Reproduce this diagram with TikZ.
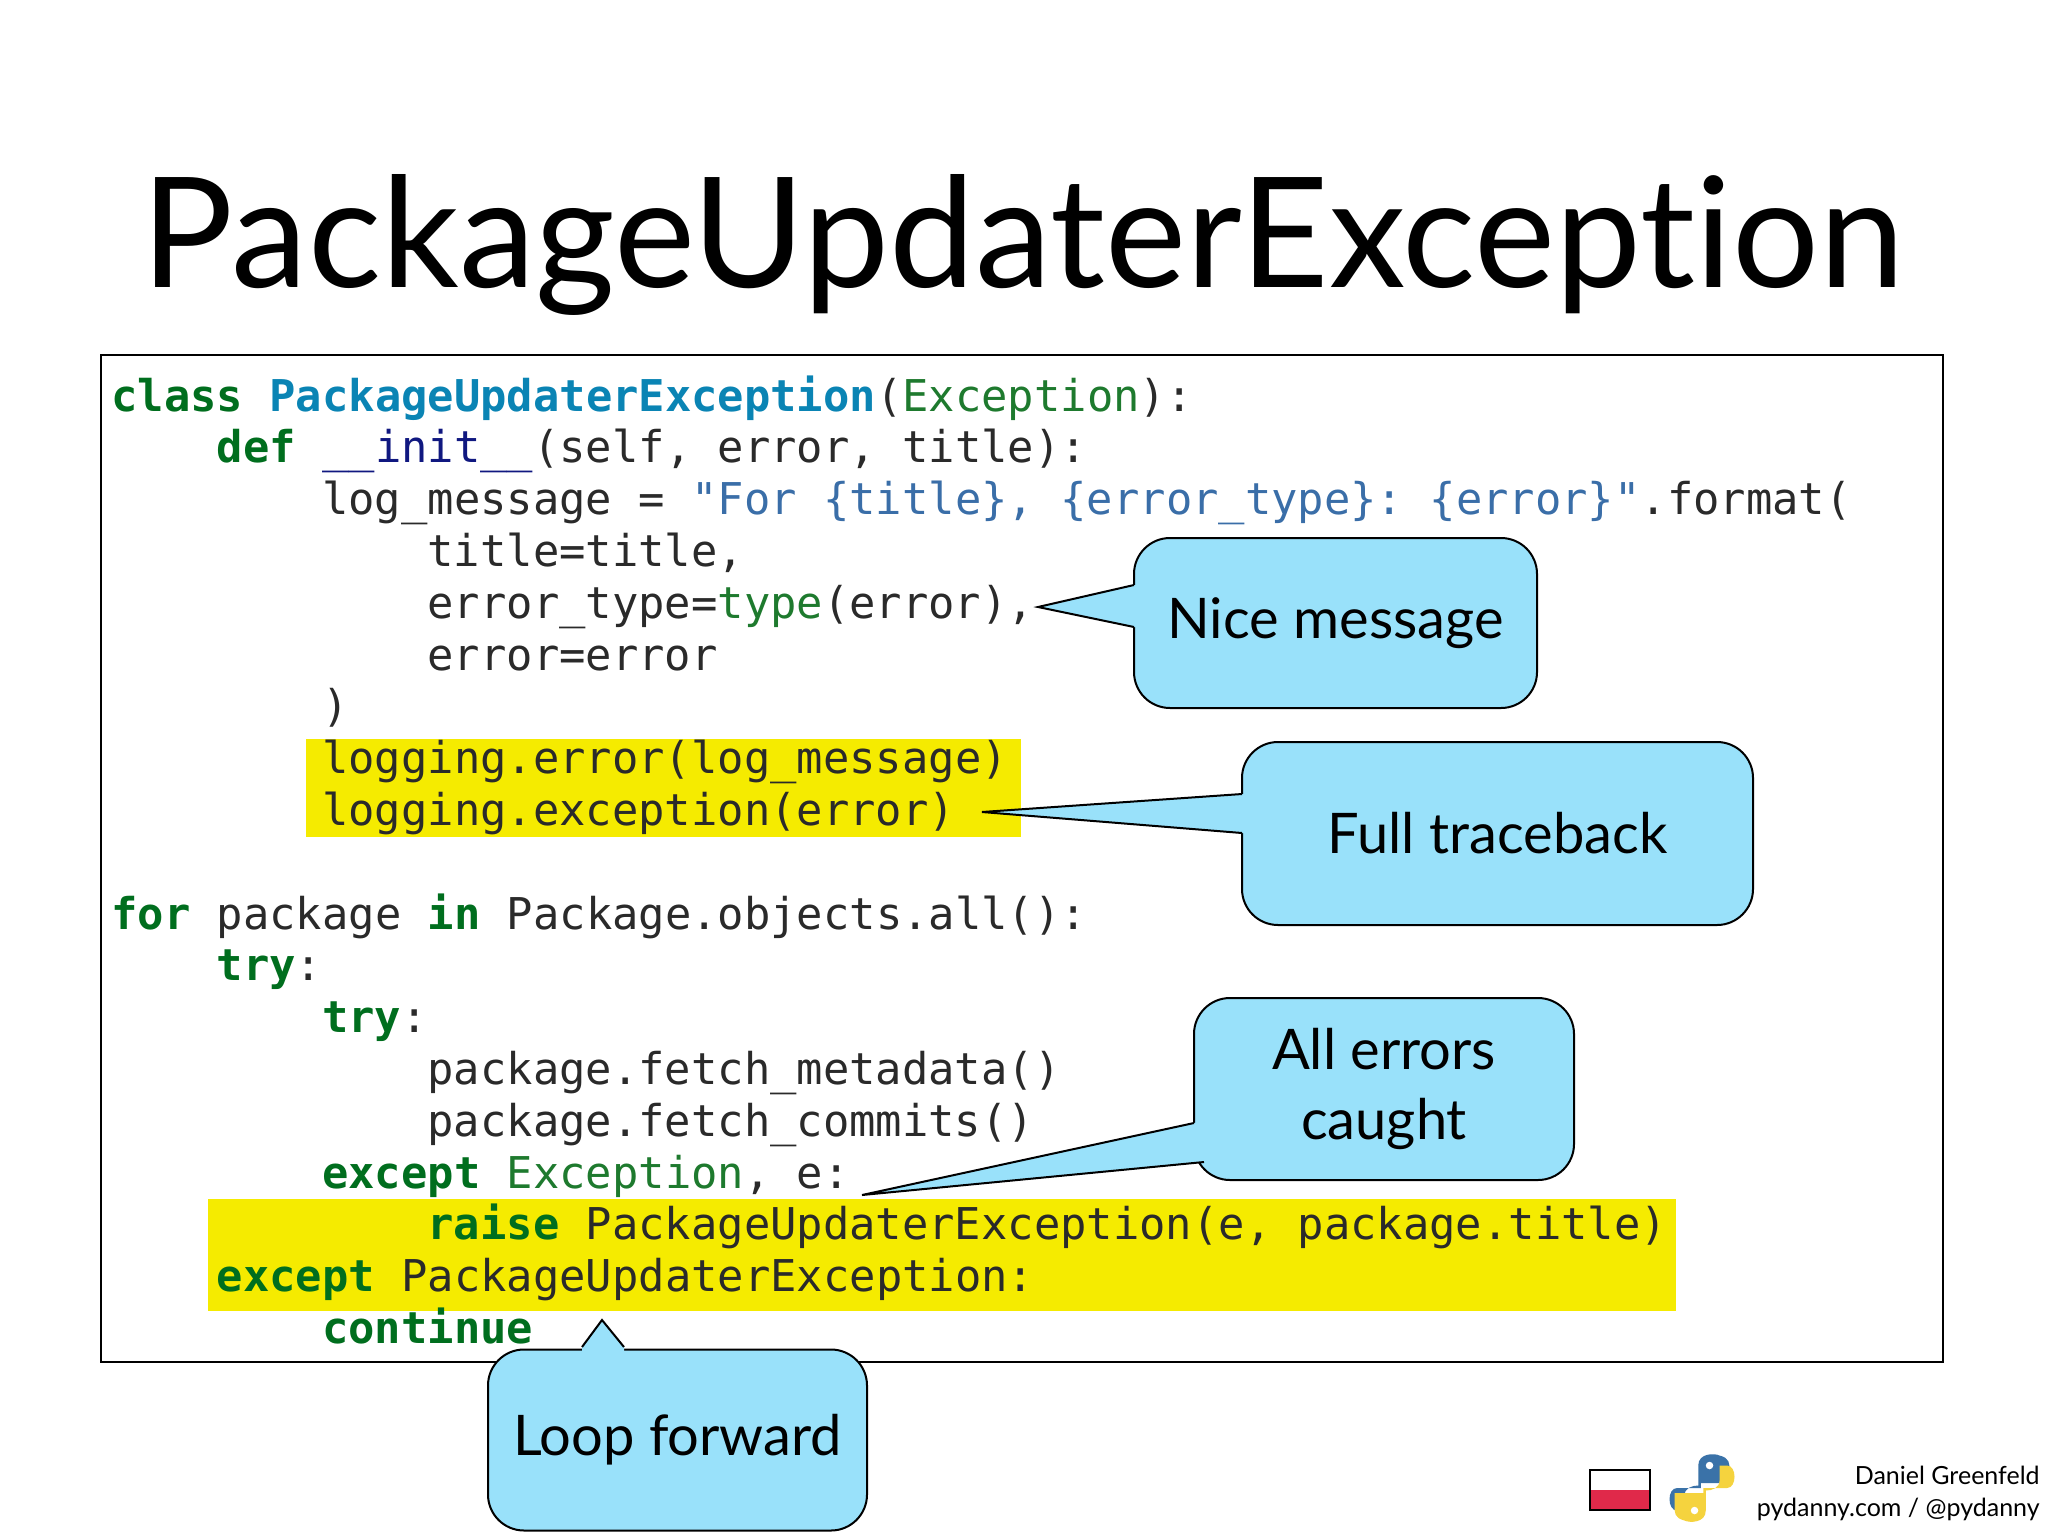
\documentclass[tikz,border=0pt]{standalone}
\usepackage{fontspec}
\setmainfont{Lato}[Ligatures={NoCommon,TeX}]
\setmonofont{DejaVu Sans Mono}
\definecolor{kw}{HTML}{006E1E}
\definecolor{cls}{HTML}{0A84B4}
\definecolor{exc}{HTML}{1E7A2E}
\definecolor{nav}{HTML}{101880}
\definecolor{str}{HTML}{3A6EA8}
\definecolor{txt}{HTML}{2A2A2A}
\definecolor{hl}{HTML}{F5EB00}
\definecolor{cfill}{HTML}{99E1FA}
\definecolor{flagred}{HTML}{E0294A}
\definecolor{pyblue}{HTML}{3A72A8}
\definecolor{pyyel}{HTML}{F5D33E}
\newcommand{\K}[1]{\textbf{\textcolor{kw}{#1}}}
\newcommand{\E}[1]{\textcolor{exc}{#1}}
\begin{document}
\begin{tikzpicture}[x=0.5pt,y=-0.5pt,
  code/.style={anchor=base west,inner sep=0pt,font=\fontsize{21.9}{26}\ttfamily,text=txt},
  callout/.style={draw=black,line width=1pt,fill=cfill,rounded corners=18pt,align=center,font=\fontsize{28}{35}\selectfont,inner sep=0pt},
  ptr/.style={fill=cfill},
  ptrline/.style={draw=black,line width=1pt,line join=miter}]
\fill[white] (0,0) rectangle (2048,1536);
\useasboundingbox (0,0) rectangle (2048,1536);
% title
\node[anchor=base,inner sep=0pt] (title) at (1023,287) {\resizebox{881pt}{!}{\fontsize{72}{80}\selectfont PackageUpdaterException}};
% highlights
\fill[hl] (306,739) rectangle (1021,837);
\fill[hl] (208,1199) rectangle (1676,1311);
% code box
\draw[line width=1pt] (101,355) rectangle (1943,1362);
\def\cw{26.35}
\def\lh{51.8}
\def\by{411}
\node[code] (l0) at (111,\by) {\K{class} \textbf{\textcolor{cls}{PackageUpdaterException}}(\E{Exception}):};
\node[code] (l1) at (111+4*\cw,\by+1*\lh) {\K{def} \textcolor{nav}{\_\_init\_\_}(self, error, title):};
\node[code] (l2) at (111+8*\cw,\by+2*\lh) {log\_message = \textcolor{str}{"For \{title\}, \{error\_type\}: \{error\}"}.format(};
\node[code] (l3) at (111+12*\cw,\by+3*\lh) {title=title,};
\node[code] (l4) at (111+12*\cw,\by+4*\lh) {error\_type=\E{type}(error),};
\node[code] (l5) at (111+12*\cw,\by+5*\lh) {error=error};
\node[code] (l6) at (111+8*\cw,\by+6*\lh) {)};
\node[code] (l7) at (111+8*\cw,\by+7*\lh) {logging.error(log\_message)};
\node[code] (l8) at (111+8*\cw,\by+8*\lh) {logging.exception(error)};
\node[code] (l10) at (111,\by+10*\lh) {\K{for} package \K{in} Package.objects.all():};
\node[code] (l11) at (111+4*\cw,\by+11*\lh) {\K{try}:};
\node[code] (l12) at (111+8*\cw,\by+12*\lh) {\K{try}:};
\node[code] (l13) at (111+12*\cw,\by+13*\lh) {package.fetch\_metadata()};
\node[code] (l14) at (111+12*\cw,\by+14*\lh) {package.fetch\_commits()};
\node[code] (l15) at (111+8*\cw,\by+15*\lh) {\K{except} \E{Exception}, e:};
\node[code] (l16) at (111+12*\cw,\by+16*\lh) {\K{raise} PackageUpdaterException(e, package.title)};
\node[code] (l17) at (111+4*\cw,\by+17*\lh) {\K{except} PackageUpdaterException:};
\node[code] (l18) at (111+8*\cw,\by+18*\lh) {\K{continue}};
% callout 1
\node[callout,minimum width=201.5pt,minimum height=85pt] (c1) at (1335.5,623) {Nice message};
\coordinate (t1) at (1038,607);
\fill[ptr] (t1) -- (1134,585) -- (1140,585) -- (1140,627) -- (1134,627) -- cycle;
\draw[ptrline] (1134,585) -- (t1) -- (1134,627);
% callout 2
\node[callout,minimum width=255.5pt,minimum height=91.5pt] (c2) at (1497.5,833.5) {Full traceback};
\coordinate (t2) at (982,812);
\fill[ptr] (t2) -- (1242,794) -- (1248,794) -- (1248,833) -- (1242,833) -- cycle;
\draw[ptrline] (1242,794) -- (t2) -- (1242,833);
% callout 3
\node[callout,minimum width=190pt,minimum height=91pt] (c3) at (1384,1089) {All errors\\caught};
\coordinate (t3) at (862,1195);
\fill[ptr] (t3) -- (1194,1123) -- (1210,1120) -- (1215,1158) -- (1204,1162) -- cycle;
\draw[ptrline] (1194,1123) -- (t3) -- (1204,1162);
% callout 4
\node[callout,minimum width=189.5pt,minimum height=90.5pt] (c4) at (677.5,1440) {Loop forward};
\coordinate (t4) at (602,1320);
\fill[ptr] (t4) -- (582,1347) -- (582,1353) -- (624,1353) -- (624,1347) -- cycle;
\draw[ptrline] (582,1347) -- (t4) -- (624,1347);
% footer
\draw[line width=1.2pt] (1590,1470) rectangle (1650,1510);
\fill[flagred] (1591,1490) rectangle (1649,1509);
\begin{scope}[shift={(1702,1488)},scale=1.25]
\fill[pyblue] (-3,-2) -- (-3,-18) .. controls (-3,-28) and (10,-28) .. (14,-26) .. controls (22,-24) and (22,-20) .. (22,-14) -- (22,-4) -- (-1,-4) -- (-1,0) -- (-20,0) .. controls (-28,0) and (-28,18) .. (-20,18) -- (-14,18) -- (-14,6) .. controls (-14,0) and (-8,-2) .. (-3,-2) -- cycle;
\fill[pyyel] (3,2) -- (3,18) .. controls (3,28) and (-10,28) .. (-14,26) .. controls (-22,24) and (-22,20) .. (-22,14) -- (-22,4) -- (1,4) -- (1,0) -- (20,0) .. controls (28,0) and (28,-18) .. (20,-18) -- (14,-18) -- (14,-6) .. controls (14,0) and (8,2) .. (3,2) -- cycle;
\fill[white] (6,-18) circle (3);
\fill[white] (-6,18) circle (3);
\end{scope}
\node[anchor=base east,inner sep=0pt,font=\fontsize{12.5}{15}\selectfont] (f1) at (2040,1484) {Daniel Greenfeld};
\node[anchor=base east,inner sep=0pt,font=\fontsize{12.5}{15}\selectfont] (f2) at (2040,1516) {pydanny.com / @pydanny};
\end{tikzpicture}
\end{document}
